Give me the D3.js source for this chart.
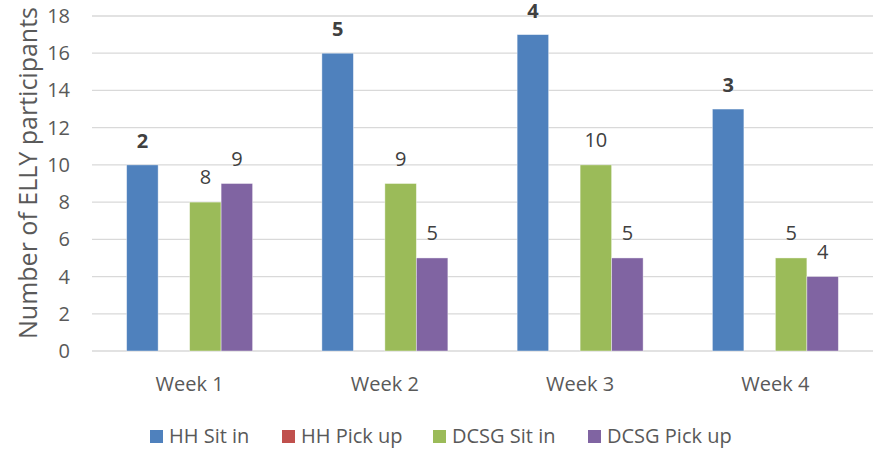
<!DOCTYPE html>
<html>
<head>
<meta charset="utf-8">
<script src="https://d3js.org/d3.v7.min.js"></script>
<style>
  body { margin: 0; background: #fff; }
  svg text { font-family: 'Open Sans', sans-serif; }
  .grid line { stroke: #d9d9d9; stroke-width: 1.3px; }
  .tick-label { fill: #595959; font-size: 20px; }
  .bar-label { fill: #404040; font-size: 20px; text-anchor: middle; }
  .bar-label.bold { font-weight: 700; }
  .legend text { fill: #595959; font-size: 20px; }
</style>
</head>
<body>
<script>
// chart data
var weeks = ["Week 1", "Week 2", "Week 3", "Week 4"];
var seriesNames = ["HH Sit in", "HH Pick up", "DCSG Sit in", "DCSG Pick up"];
var seriesColors = ["#4f81bd", "#c0504d", "#9bbb59", "#8064a2"];
var hhSitIn = [10, 16, 17, 13];
var hhPickUp = [0, 0, 0, 0];
var dcsgSitIn = [8, 9, 10, 5];
var dcsgPickUp = [9, 5, 5, 4];
var hhSitInLabels = [2, 5, 4, 3];   // bold labels shown over HH Sit in bars
var yTicks = [0, 2, 4, 6, 8, 10, 12, 14, 16, 18];

var seriesValues = [hhSitIn, hhPickUp, dcsgSitIn, dcsgPickUp];

var width = 875, height = 449;
var plot = { left: 92, right: 873, top: 16, bottom: 351 };

var svg = d3.select("body").append("svg")
  .attr("width", width)
  .attr("height", height);

var x0 = d3.scaleBand()
  .domain(weeks)
  .range([plot.left, plot.right]);

var x1 = d3.scaleBand()
  .domain(seriesNames)
  .range([0, x0.bandwidth()])
  .paddingInner(0)
  .paddingOuter(1.1);

var y = d3.scaleLinear()
  .domain([0, 18])
  .range([plot.bottom, plot.top]);

// gridlines
svg.append("g").attr("class", "grid")
  .selectAll("line")
  .data(yTicks)
  .enter().append("line")
  .attr("x1", plot.left)
  .attr("x2", plot.right)
  .attr("y1", function(d) { return y(d); })
  .attr("y2", function(d) { return y(d); });

// y tick labels
svg.append("g")
  .selectAll("text")
  .data(yTicks)
  .enter().append("text")
  .attr("class", "tick-label")
  .attr("x", 70)
  .attr("y", function(d) { return y(d); })
  .attr("dy", "0.35em")
  .attr("text-anchor", "end")
  .text(function(d) { return d; });

// y axis title
svg.append("text")
  .attr("class", "tick-label")
  .attr("transform", "translate(37,173) rotate(-90)")
  .attr("text-anchor", "middle")
  .style("font-size", "25px")
  .text("Number of ELLY participants");

// x labels
svg.append("g")
  .selectAll("text")
  .data(weeks)
  .enter().append("text")
  .attr("class", "tick-label")
  .attr("x", function(d) { return x0(d) + x0.bandwidth() / 2; })
  .attr("y", 391)
  .attr("text-anchor", "middle")
  .text(function(d) { return d; });

// bars
var rows = [];
weeks.forEach(function(w, i) {
  seriesNames.forEach(function(s, j) {
    rows.push({ week: w, series: s, value: seriesValues[j][i], color: seriesColors[j], idx: i, sIdx: j });
  });
});

svg.append("g")
  .selectAll("rect")
  .data(rows.filter(function(d) { return d.value > 0; }))
  .enter().append("rect")
  .attr("x", function(d) { return x0(d.week) + x1(d.series); })
  .attr("width", x1.bandwidth())
  .attr("y", function(d) { return y(d.value); })
  .attr("height", function(d) { return y(0) - y(d.value); })
  .attr("fill", function(d) { return d.color; })
  .attr("stroke", "#ffffff")
  .attr("stroke-opacity", 0.5)
  .attr("stroke-width", 0.8);

// value labels for DCSG series
svg.append("g")
  .selectAll("text")
  .data(rows.filter(function(d) { return d.sIdx >= 2; }))
  .enter().append("text")
  .attr("class", "bar-label")
  .attr("x", function(d) { return x0(d.week) + x1(d.series) + x1.bandwidth() / 2; })
  .attr("y", function(d) { return y(d.value) - 18; })
  .text(function(d) { return d.value; });

// bold labels over HH Sit in
svg.append("g")
  .selectAll("text")
  .data(weeks)
  .enter().append("text")
  .attr("class", "bar-label bold")
  .attr("x", function(d) { return x0(d) + x1("HH Sit in") + x1.bandwidth() / 2; })
  .attr("y", function(d, i) { return y(hhSitIn[i]) - 17; })
  .text(function(d, i) { return hhSitInLabels[i]; });

// legend
var legendX = [150, 282, 433, 588];
var legend = svg.append("g").attr("class", "legend")
  .selectAll("g")
  .data(seriesNames)
  .enter().append("g")
  .attr("transform", function(d, i) { return "translate(" + legendX[i] + ",430)"; });

legend.append("rect")
  .attr("width", 13)
  .attr("height", 13)
  .attr("fill", function(d, i) { return seriesColors[i]; });

legend.append("text")
  .attr("x", 19)
  .attr("y", 13)
  .text(function(d) { return d; });
</script>
</body>
</html>
